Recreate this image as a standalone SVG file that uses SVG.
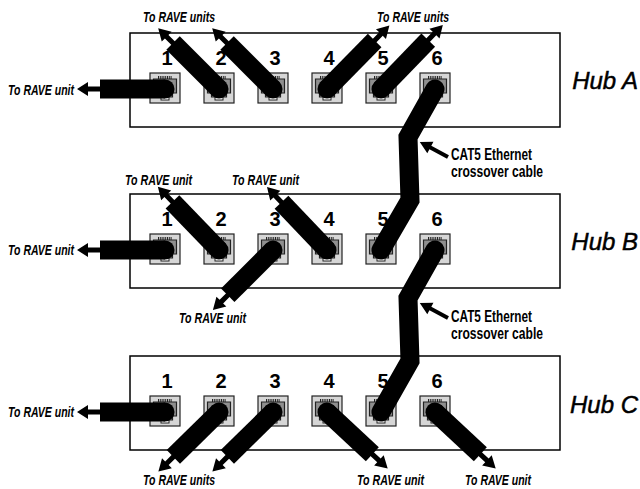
<svg xmlns="http://www.w3.org/2000/svg" xmlns:xlink="http://www.w3.org/1999/xlink" width="640" height="489" viewBox="0 0 640 489">
<defs>
<style>
.hub{fill:#fff;stroke:#000;stroke-width:1.5}
.pout{fill:#d6d6d6;stroke:#222;stroke-width:1.2}
.pin{fill:#8f8f8f;stroke:#222;stroke-width:1.2}
.pins{stroke:#222;stroke-width:3;stroke-dasharray:1 0.8}
.tab{fill:#fff;stroke:#222;stroke-width:1}
.cab{fill:#000}
.xo{fill:none;stroke:#000;stroke-width:19;stroke-linecap:round;stroke-linejoin:miter}
.num{font-family:"Liberation Sans",Arial,sans-serif;font-weight:bold;font-size:20px;text-anchor:middle;fill:#000}
.lbl{font-family:"Liberation Sans",Arial,sans-serif;font-weight:bold;font-style:italic;font-size:15px;fill:#000}
.cat{font-family:"Liberation Sans",Arial,sans-serif;font-weight:bold;font-size:16px;fill:#000}
.hl{font-family:"Liberation Sans",Arial,sans-serif;font-style:italic;font-size:24px;text-anchor:end;fill:#000;stroke:#000;stroke-width:0.5}
</style>
<g id="port">
<rect class="pout" x="0" y="0" width="30" height="30"/>
<path class="pin" d="M3.5,6 H26.5 V20 H22.5 V24 H7.5 V20 H3.5 Z"/>
<line class="pins" x1="8" y1="4.5" x2="22" y2="4.5"/>
<rect class="tab" x="11" y="22" width="8" height="5"/>
</g>
</defs>

<g id="hubA">
<rect class="hub" x="130" y="33" width="430" height="94"/>
<use xlink:href="#port" x="150" y="73"/><use xlink:href="#port" x="204" y="73"/><use xlink:href="#port" x="258" y="73"/>
<use xlink:href="#port" x="312" y="73"/><use xlink:href="#port" x="366" y="73"/><use xlink:href="#port" x="420" y="73"/>
<text class="num" x="167" y="65">1</text><text class="num" x="221" y="65">2</text><text class="num" x="275" y="65">3</text>
<text class="num" x="329" y="65">4</text><text class="num" x="383" y="65">5</text><text class="num" x="437" y="65">6</text>
<text class="hl" x="638" y="89">Hub A</text>
</g>

<g id="hubB">
<rect class="hub" x="130" y="194" width="430" height="94"/>
<use xlink:href="#port" x="150" y="234"/><use xlink:href="#port" x="204" y="234"/><use xlink:href="#port" x="258" y="234"/>
<use xlink:href="#port" x="312" y="234"/><use xlink:href="#port" x="366" y="234"/><use xlink:href="#port" x="420" y="234"/>
<text class="num" x="167" y="226">1</text><text class="num" x="221" y="226">2</text><text class="num" x="275" y="226">3</text>
<text class="num" x="329" y="226">4</text><text class="num" x="383" y="226">5</text><text class="num" x="437" y="226">6</text>
<text class="hl" x="638" y="250">Hub B</text>
</g>

<g id="hubC">
<rect class="hub" x="130" y="356" width="430" height="94"/>
<use xlink:href="#port" x="150" y="396"/><use xlink:href="#port" x="204" y="396"/><use xlink:href="#port" x="258" y="396"/>
<use xlink:href="#port" x="312" y="396"/><use xlink:href="#port" x="366" y="396"/><use xlink:href="#port" x="420" y="396"/>
<text class="num" x="167" y="388">1</text><text class="num" x="221" y="388">2</text><text class="num" x="275" y="388">3</text>
<text class="num" x="329" y="388">4</text><text class="num" x="383" y="388">5</text><text class="num" x="437" y="388">6</text>
<text class="hl" x="638" y="413">Hub C</text>
</g>

<g id="connectors">
<!-- horizontal cables -->
<g class="cab" transform="translate(165,89) rotate(180)"><circle r="9.5"/><rect x="0" y="-9.5" width="65" height="19"/><path d="M64,-2.5 H77 V-7 L88,0 L77,7 V2.5 H64 Z"/></g>
<g class="cab" transform="translate(165,250) rotate(180)"><circle r="9.5"/><rect x="0" y="-9.5" width="65" height="19"/><path d="M64,-2.5 H77 V-7 L88,0 L77,7 V2.5 H64 Z"/></g>
<g class="cab" transform="translate(165,412) rotate(180)"><circle r="9.5"/><rect x="0" y="-9.5" width="65" height="19"/><path d="M64,-2.5 H77 V-7 L88,0 L77,7 V2.5 H64 Z"/></g>
<!-- hub A diagonals -->
<g class="cab" transform="translate(219,89) rotate(-135)"><circle r="9.5"/><rect x="0" y="-9.5" width="65" height="19"/><path d="M64,-2.5 H74 V-7 L86,0 L74,7 V2.5 H64 Z"/></g>
<g class="cab" transform="translate(273,89) rotate(-135)"><circle r="9.5"/><rect x="0" y="-9.5" width="65" height="19"/><path d="M64,-2.5 H74 V-7 L86,0 L74,7 V2.5 H64 Z"/></g>
<g class="cab" transform="translate(327,89) rotate(-45.5)"><circle r="9.5"/><rect x="0" y="-9.5" width="68" height="19"/><path d="M67,-2.5 H77 V-7 L89,0 L77,7 V2.5 H67 Z"/></g>
<g class="cab" transform="translate(381,89) rotate(-46)"><circle r="9.5"/><rect x="0" y="-9.5" width="68" height="19"/><path d="M67,-2.5 H77 V-7 L89,0 L77,7 V2.5 H67 Z"/></g>
<!-- hub B diagonals -->
<g class="cab" transform="translate(219,250) rotate(-134)"><circle r="9.5"/><rect x="0" y="-9.5" width="67" height="19"/><path d="M66,-2.5 H76 V-7 L88,0 L76,7 V2.5 H66 Z"/></g>
<g class="cab" transform="translate(327,250) rotate(-133.6)"><circle r="9.5"/><rect x="0" y="-9.5" width="66" height="19"/><path d="M65,-2.5 H75 V-7 L87,0 L75,7 V2.5 H65 Z"/></g>
<g class="cab" transform="translate(273,250) rotate(135)"><circle r="9.5"/><rect x="0" y="-9.5" width="64" height="19"/><path d="M63,-2.5 H73 V-7 L85,0 L73,7 V2.5 H63 Z"/></g>
<!-- hub C diagonals -->
<g class="cab" transform="translate(219,412) rotate(135.5)"><circle r="9.5"/><rect x="0" y="-9.5" width="64" height="19"/><path d="M63,-2.5 H73 V-7 L85,0 L73,7 V2.5 H63 Z"/></g>
<g class="cab" transform="translate(273,412) rotate(135.5)"><circle r="9.5"/><rect x="0" y="-9.5" width="64" height="19"/><path d="M63,-2.5 H73 V-7 L85,0 L73,7 V2.5 H63 Z"/></g>
<g class="cab" transform="translate(327,412) rotate(43)"><circle r="9.5"/><rect x="0" y="-9.5" width="62" height="19"/><path d="M61,-2.5 H71 V-7 L83,0 L71,7 V2.5 H61 Z"/></g>
<g class="cab" transform="translate(435,412) rotate(43)"><circle r="9.5"/><rect x="0" y="-9.5" width="62" height="19"/><path d="M61,-2.5 H71 V-7 L83,0 L71,7 V2.5 H61 Z"/></g>
<!-- crossover cables -->
<path class="xo" d="M435,89 L408,137 L410,200 L381,250"/>
<path class="xo" d="M435,250 L408,298 L410,361 L381,412"/>
<!-- callout arrows -->
<g class="cab" transform="translate(448,157) rotate(208.2)"><path d="M0,-2 H20 V-6.5 L32,0 L20,6.5 V2 H0 Z"/></g>
<g class="cab" transform="translate(448,318) rotate(208.2)"><path d="M0,-2 H20 V-6.5 L32,0 L20,6.5 V2 H0 Z"/></g>
</g>

<g id="labels">
<text class="lbl" x="8" y="95" textLength="66" lengthAdjust="spacingAndGlyphs">To RAVE unit</text>
<text class="lbl" x="143" y="22" textLength="72" lengthAdjust="spacingAndGlyphs">To RAVE units</text>
<text class="lbl" x="377" y="22" textLength="72" lengthAdjust="spacingAndGlyphs">To RAVE units</text>
<text class="lbl" x="8" y="255" textLength="66" lengthAdjust="spacingAndGlyphs">To RAVE unit</text>
<text class="lbl" x="125" y="185" textLength="67" lengthAdjust="spacingAndGlyphs">To RAVE unit</text>
<text class="lbl" x="232" y="185" textLength="67" lengthAdjust="spacingAndGlyphs">To RAVE unit</text>
<text class="lbl" x="179" y="323" textLength="67" lengthAdjust="spacingAndGlyphs">To RAVE unit</text>
<text class="lbl" x="8" y="417" textLength="66" lengthAdjust="spacingAndGlyphs">To RAVE unit</text>
<text class="lbl" x="143" y="485" textLength="72" lengthAdjust="spacingAndGlyphs">To RAVE units</text>
<text class="lbl" x="357" y="485" textLength="67" lengthAdjust="spacingAndGlyphs">To RAVE unit</text>
<text class="lbl" x="465" y="485" textLength="66" lengthAdjust="spacingAndGlyphs">To RAVE unit</text>
<text class="cat" x="451" y="160" textLength="81" lengthAdjust="spacingAndGlyphs">CAT5 Ethernet</text>
<text class="cat" x="451" y="177" textLength="92" lengthAdjust="spacingAndGlyphs">crossover cable</text>
<text class="cat" x="451" y="322" textLength="81" lengthAdjust="spacingAndGlyphs">CAT5 Ethernet</text>
<text class="cat" x="451" y="339" textLength="92" lengthAdjust="spacingAndGlyphs">crossover cable</text>
</g>
</svg>
